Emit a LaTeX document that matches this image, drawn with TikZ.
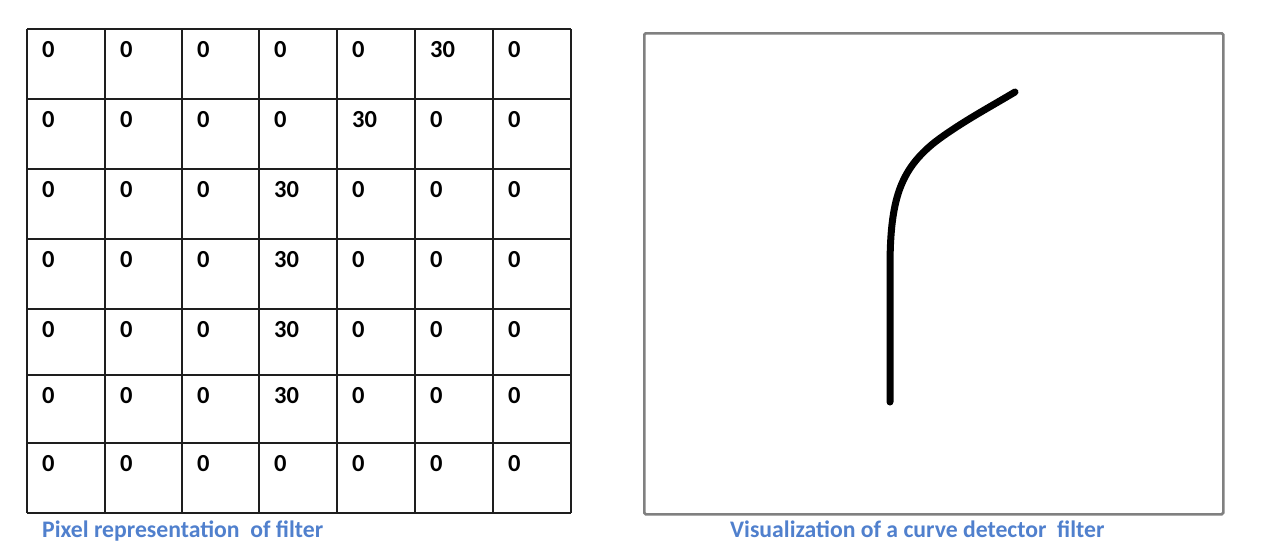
\documentclass[tikz,border=0pt]{standalone}
\usepackage{fontspec}
\setmainfont{Carlito}
\definecolor{capblue}{RGB}{80,128,205}
\definecolor{boxgray}{RGB}{128,128,128}
\definecolor{gridline}{RGB}{30,30,30}
\tikzset{
  gridln/.style={draw=gridline, line width=2pt},
  num/.style={anchor=base west, inner sep=0pt, font=\fontsize{24.5}{28}\selectfont\bfseries},
  caption/.style={anchor=base west, inner sep=0pt, text=capblue, font=\fontsize{23.7}{27}\selectfont\bfseries},
  curveln/.style={line width=7pt, line cap=round, line join=round, black},
  framebox/.style={draw=boxgray, line width=2.5pt, rounded corners=1.5pt}
}
\begin{document}
\begin{tikzpicture}[x=1pt,y=-1pt]
\useasboundingbox (0,0) rectangle (1270,546);
% grid
\def\colxs{27,105,182,259,337,415,493,571}
\def\rowys{29,99,169,239,309,375,443,513}
\foreach \x in \colxs {\draw[gridln] (\x,29) -- (\x,513);}
\foreach \y in \rowys {\draw[gridln] (27,\y) -- (571,\y);}
% numbers
\foreach \r/\y in {1/29,2/99,3/169,4/239,5/309,6/375,7/443}{
  \foreach \c/\x in {1/27,2/105,3/182,4/259,5/337,6/415,7/493}{
    \pgfmathsetmacro{\val}{ (\r==1 && \c==6) || (\r==2 && \c==5) || (\r>=3 && \r<=6 && \c==4) ? 30 : 0 }
    \pgfmathtruncatemacro{\vi}{\val}
    \node[num] (n-\r-\c) at (\x+15,\y+28) {\vi};
  }
}
\node[caption] (cap1) at (42,537) {Pixel representation\ \ of filter};
% visualization
\node[framebox, minimum width=579pt, minimum height=481pt, anchor=north west, inner sep=0pt] (frame) at (643,32) {};
\coordinate (cb) at (890,402);
\coordinate (cm) at (890,268);
\coordinate (ck) at (935,142);
\coordinate (ct) at (1015,92);
\draw[curveln] (cb) -- (cm) .. controls (890,200) and (900,170) .. (ck) .. controls (960,123) and (990,107) .. (ct);
\node[caption] (cap2) at (730,537) {Visualization of a curve detector\ \ filter};
\end{tikzpicture}
\end{document}
